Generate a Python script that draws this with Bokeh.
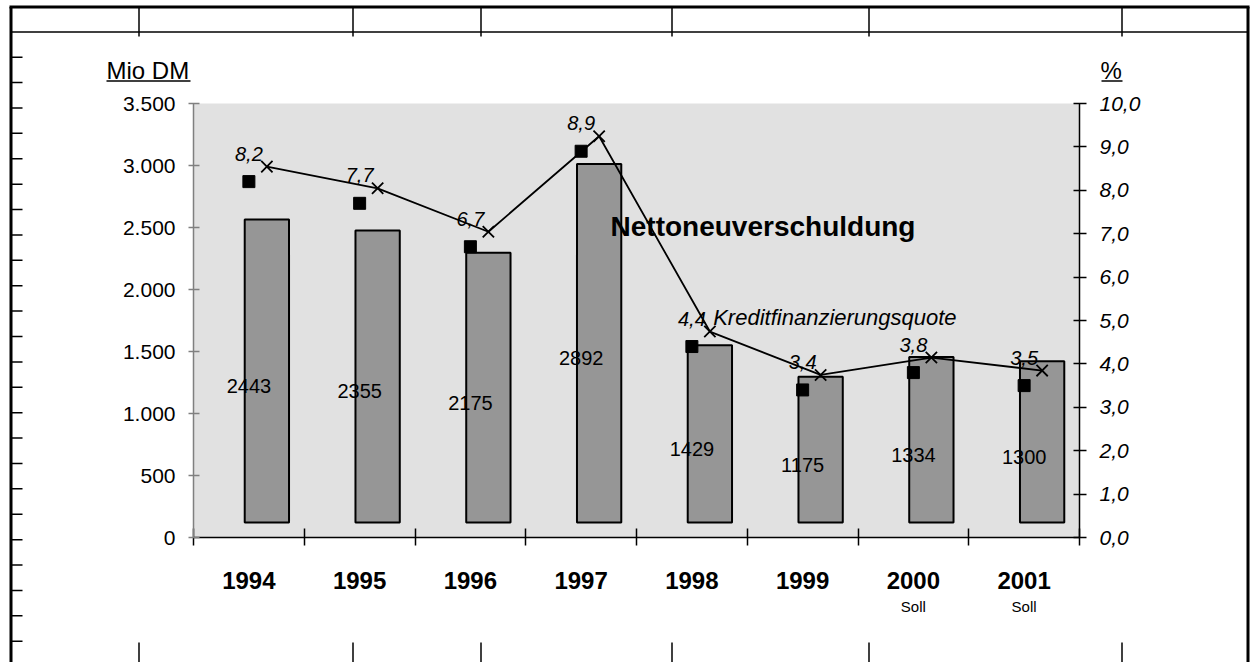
import numpy as np
from bokeh.plotting import figure
from bokeh.models import Range1d, LinearAxis, FixedTicker, ColumnDataSource, Label, BoxAnnotation
from bokeh.transform import dodge
from bokeh.core.properties import value
from bokeh.embed import file_html
from bokeh.resources import INLINE

# ---------------- data ----------------
years = ["1994", "1995", "1996", "1997", "1998", "1999", "2000", "2001"]
notes = ["", "", "", "", "", "", "Soll", "Soll"]
nnv = [2443, 2355, 2175, 2892, 1429, 1175, 1334, 1300]      # Nettoneuverschuldung, Mio DM
kfq = [8.2, 7.7, 6.7, 8.9, 4.4, 3.4, 3.8, 3.5]              # Kreditfinanzierungsquote, %
left_ticks = [0, 500, 1000, 1500, 2000, 2500, 3000, 3500]
left_labels = ["0", "500", "1.000", "1.500", "2.000", "2.500", "3.000", "3.500"]
right_ticks = [0, 1, 2, 3, 4, 5, 6, 7, 8, 9, 10]
right_labels = ["0,0", "1,0", "2,0", "3,0", "4,0", "5,0", "6,0", "7,0", "8,0", "9,0", "10,0"]

# ---------------- layout ----------------
W, H = 1252, 662
FL, FR, FT, FB = 193, 1079, 103, 537   # chart area in canvas pixels
YMAX_L, YMAX_R = 3500, 10
n = len(years)
cat_px = (FR - FL) / n
frame_h = FB - FT
kL = YMAX_L / frame_h      # units per pixel
kR = YMAX_R / frame_h
SX, SY = 18, 15            # offset of the bar/line overlay (pixels)
dx = SX / cat_px
dy_dm = SY * kL
dy_pct = SY * kR

FONT = "Liberation Sans"

y0L, y1L = -(H - FB) * kL, FB * kL
y0R, y1R = -(H - FB) * kR, FB * kR

p = figure(width=W, height=H,
           x_range=Range1d(-FL / cat_px, (W - FL) / cat_px),
           y_range=Range1d(y0L, y1L),
           output_backend="svg", toolbar_location=None,
           x_axis_location=None, y_axis_location=None,
           min_border=0, min_border_left=0, min_border_right=0,
           min_border_top=0, min_border_bottom=0,
           background_fill_color="white", border_fill_color="white",
           outline_line_color=None)
p.grid.visible = False

p.extra_y_ranges = {
    "pct": Range1d(y0R, y1R),
    "bars": Range1d(y0L - dy_dm, y1L - dy_dm),
    "pshift": Range1d(y0R - dy_pct, y1R - dy_pct),
    "half": Range1d(2 * y0L, 2 * y1L),
    "px": Range1d(H, 0),
}
p.extra_x_ranges = {"px": Range1d(0, W)}

# plot area background
p.add_layout(BoxAnnotation(left=0, right=n, bottom=0, top=YMAX_L, fill_color="#e1e1e1",
                           fill_alpha=1, line_color=None, level="underlay"))

centers = [i + 0.5 for i in range(n)]
src = ColumnDataSource(dict(
    x=centers, nnv=nnv, kfq=kfq,
    nnv_txt=[str(v) for v in nnv],
    kfq_txt=[f"{v:.1f}".replace(".", ",") for v in kfq],
))

# bars
p.vbar(x=dodge("x", dx), top="nnv", bottom=0, width=0.4, source=src, y_range_name="bars",
       fill_color="#969696", line_color="black", line_width=2)
# bar value labels (mid-height)
p.text(x="x", y="nnv", text="nnv_txt", source=src, y_range_name="half",
       text_align="center", text_baseline="middle", text_font=value(FONT),
       text_font_size="20px", text_color="black")
# quote line with crosses
p.line(x=dodge("x", dx), y="kfq", source=src, y_range_name="pshift",
       line_color="black", line_width=1.8)
p.scatter(x=dodge("x", dx), y="kfq", source=src, y_range_name="pshift", marker="x",
          size=16, line_color="black", line_width=1.8)
# squares
p.scatter(x="x", y="kfq", source=src, y_range_name="pct", marker="square", size=12,
          fill_color="black", line_color="black")
p.text(x="x", y="kfq", text="kfq_txt", source=src, y_range_name="pct", y_offset=-28,
       text_align="center", text_baseline="middle", text_font=value(FONT),
       text_font_style="italic", text_font_size="20px", text_color="black")

# ---------------- axes ----------------
xaxis = LinearAxis(fixed_location=0, bounds=(0, n),
                   ticker=FixedTicker(ticks=centers, minor_ticks=list(range(n + 1))),
                   major_label_overrides={c: y for c, y in zip(centers, years)})
xaxis.axis_line_color = "black"
xaxis.axis_line_width = 1.5
xaxis.major_tick_line_color = None
xaxis.major_tick_in = 0
xaxis.major_tick_out = 0
xaxis.minor_tick_line_color = "black"
xaxis.minor_tick_line_width = 1.5
xaxis.minor_tick_in = 9
xaxis.minor_tick_out = 8
xaxis.major_label_standoff = 26
xaxis.major_label_text_font = FONT
xaxis.major_label_text_font_style = "bold"
xaxis.major_label_text_font_size = "24px"
xaxis.major_label_text_color = "black"
p.add_layout(xaxis, "below")

yleft = LinearAxis(fixed_location=0, bounds=(0, YMAX_L),
                   ticker=FixedTicker(ticks=left_ticks, minor_ticks=[]),
                   major_label_overrides=dict(zip(left_ticks, left_labels)))
yleft.axis_line_color = "#808080"
yleft.axis_line_width = 1.5
yleft.major_tick_line_color = "#808080"
yleft.major_tick_line_width = 1.5
yleft.major_tick_in = 6
yleft.major_tick_out = 5
yleft.minor_tick_line_color = None
yleft.major_label_standoff = 13
yleft.major_label_text_font = FONT
yleft.major_label_text_font_size = "21px"
yleft.major_label_text_color = "black"
p.add_layout(yleft, "left")

yright = LinearAxis(y_range_name="pct", fixed_location=n, bounds=(0, YMAX_R),
                    ticker=FixedTicker(ticks=right_ticks, minor_ticks=[]),
                    major_label_overrides=dict(zip(right_ticks, right_labels)))
yright.axis_line_color = "black"
yright.axis_line_width = 1.5
yright.major_tick_line_color = "black"
yright.major_tick_line_width = 1.5
yright.major_tick_in = 6
yright.major_tick_out = 7
yright.minor_tick_line_color = None
yright.major_label_standoff = 13
yright.major_label_text_font = FONT
yright.major_label_text_font_style = "italic"
yright.major_label_text_font_size = "21px"
yright.major_label_text_color = "black"
p.add_layout(yright, "right")

# ---------------- texts ----------------
def px_label(x, y, text, align="left", size="23px", style="normal"):
    p.add_layout(Label(x=x, y=y, text=text, x_range_name="px", y_range_name="px",
                       text_align=align, text_baseline="middle", text_font=FONT,
                       text_font_size=size, text_font_style=style, text_color="black"))

px_label(106, 69.5, "Mio DM", size="24px")
px_label(1100, 70, "%", size="24px")
px_label(762.5, 226, "Nettoneuverschuldung", align="center", size="28px", style="bold")
px_label(712.7, 316.7, "Kreditfinanzierungsquote", size="22px", style="italic")
for c, note in zip(centers, notes):
    if note:
        p.add_layout(Label(x=c, y=605.7, text=note, y_range_name="px",
                           text_align="center", text_baseline="middle", text_font=FONT,
                           text_font_size="15px", text_color="black"))

# ---------------- sheet frame decoration ----------------
x0, x1, y0, y1 = [], [], [], []
def seg(a, b, c, d):
    x0.append(a); y0.append(b); x1.append(c); y1.append(d)

seg(106, 80.5, 190, 80.5)          # underline Mio DM
seg(1101, 80.5, 1122, 80.5)        # underline %
seg(10, 31.5, 1248, 31.5)          # header row
for xv in [138.5, 352.5, 480.5, 671.5, 868.5, 1121.5]:
    seg(xv, 6, xv, 36)
    seg(xv, 642, xv, 662)
for yv in np.linspace(56.7, 640.7, 24):
    seg(10, float(yv), 22, float(yv))

p.segment(x0="x0", y0="y0", x1="x1", y1="y1",
          source=ColumnDataSource(dict(x0=x0, y0=y0, x1=x1, y1=y1)),
          line_color="black", line_width=1.5, x_range_name="px", y_range_name="px")

bx0 = [10.5, 9, 1247.5]
by0 = [6.5, 6.5, 6.5]
bx1 = [10.5, 1249, 1247.5]
by1 = [662, 6.5, 662]
p.segment(x0="x0", y0="y0", x1="x1", y1="y1",
          source=ColumnDataSource(dict(x0=bx0, y0=by0, x1=bx1, y1=by1)),
          line_color="black", line_width=3, x_range_name="px", y_range_name="px")

open("out.html", "w").write(file_html(p, INLINE))
